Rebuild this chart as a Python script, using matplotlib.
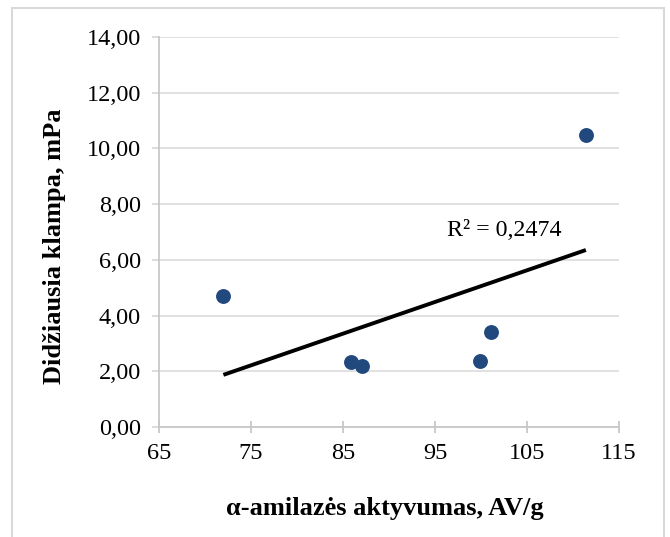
import matplotlib
matplotlib.use("Agg")
import matplotlib.pyplot as plt
from matplotlib.patches import Rectangle
import numpy as np

# alpha-amylase activity (AV/g) vs. peak viscosity (mPa)
activity = [72.0, 85.9, 87.1, 99.9, 101.05, 111.4]
viscosity = [4.70, 2.35, 2.18, 2.38, 3.40, 10.48]
r2_label = "R² = 0,2474"

x_ticks = [65, 75, 85, 95, 105, 115]
y_ticks = [0, 2, 4, 6, 8, 10, 12, 14]

plt.rcParams["font.family"] = ["Liberation Serif", "DejaVu Serif"]

W, H = 670, 537
fig = plt.figure(figsize=(W / 100, H / 100), dpi=100)
ax = fig.add_axes([159 / W, 1 - 427 / H, 460 / W, 390 / H])

# light frame round the chart area
fig.patches.append(
    Rectangle(
        (12.5 / W, -0.05),
        (664 - 12.5) / W,
        1.05 - 7.5 / H,
        transform=fig.transFigure,
        fill=False,
        edgecolor="#d9d9d9",
        linewidth=1.5,
    )
)

ax.scatter(activity, viscosity, s=115, color="#22497d", zorder=3, linewidths=0)

# linear trendline over the data range
slope, intercept = np.polyfit(activity, viscosity, 1)
x_fit = np.array([min(activity), max(activity)])
ax.plot(x_fit, slope * x_fit + intercept, color="black", linewidth=2.8,
        solid_capstyle="butt", zorder=2)
ax.text(96.3, 7.05, r2_label, fontsize=17.2, va="center", ha="left")

ax.set_xlim(65, 115)
ax.set_ylim(0, 14)
ax.set_xticks(x_ticks)
ax.set_yticks(y_ticks)
ax.set_yticklabels([f"{v:.2f}".replace(".", ",") for v in y_ticks])

ax.grid(axis="y", color="#d9d9d9", linewidth=1.1, zorder=0)
ax.set_axisbelow(True)
for side in ["top", "right"]:
    ax.spines[side].set_visible(False)
for side in ["left", "bottom"]:
    ax.spines[side].set_color("#c8c8c8")
    ax.spines[side].set_linewidth(1.3)

ax.tick_params(axis="x", direction="inout", length=9, width=1.3,
               color="#c8c8c8", labelsize=17.5, pad=7)
ax.tick_params(axis="y", direction="out", length=5, width=1.3,
               color="#d9d9d9", labelsize=17.5, pad=8)

# axis titles placed by their centres
fig.text(385 / W, 1 - 509 / H, "α-amilazės aktyvumas, AV/g", fontsize=19,
         fontweight="bold", ha="center", va="center")
fig.text(54 / W, 1 - 246 / H, "Didžiausia klampa, mPa", fontsize=19,
         fontweight="bold", ha="center", va="center", rotation=90)

fig.savefig("out.png", dpi=100, facecolor="white")
